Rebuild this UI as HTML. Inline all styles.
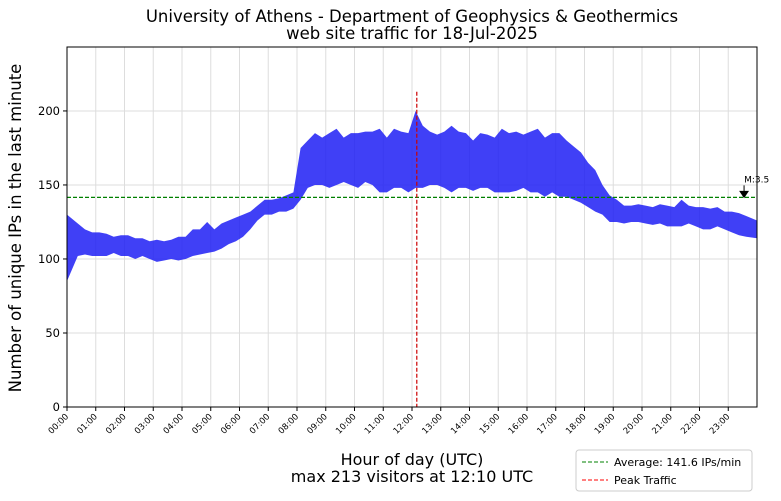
<!DOCTYPE html>
<html><head><meta charset="utf-8"><style>
body{margin:0;background:#fff;}
svg{display:block;font-family:"DejaVu Sans","Liberation Sans",sans-serif;}
</style></head><body>
<svg id="chart" width="781" height="501" viewBox="0 0 781 501">
<text x="412" y="22" text-anchor="middle" font-size="16.5">University of Athens - Department of Geophysics &amp; Geothermics</text>
<text x="412" y="39" text-anchor="middle" font-size="16.5">web site traffic for 18-Jul-2025</text>
<g id="grid"></g>
<g id="series"></g>
<g id="overlay"></g>
<rect x="67" y="47" width="690" height="360" fill="none" stroke="#000" stroke-width="1"/>
<g id="axes"></g>
<text x="412" y="465" text-anchor="middle" font-size="16">Hour of day (UTC)</text>
<text x="412" y="482" text-anchor="middle" font-size="16">max 213 visitors at 12:10 UTC</text>
<text transform="translate(21,228) rotate(-90)" text-anchor="middle" font-size="16.5">Number of unique IPs in the last minute</text>
<g>
<rect x="576" y="450" width="176" height="41" rx="3" fill="#fff" stroke="#ccc"/>
<line x1="582" y1="462" x2="608" y2="462" stroke="green" stroke-dasharray="4,2"/>
<text x="614" y="466" font-size="11">Average: 141.6 IPs/min</text>
<line x1="582" y1="480" x2="608" y2="480" stroke="red" stroke-dasharray="4,2"/>
<text x="614" y="484" font-size="11">Peak Traffic</text>
</g>
</svg>
<script>
const slotMinutes = 15;
const lows = [85,102,103,102, 102,102,104,102, 102,100,102,100, 98,99,100,99,
 100,102,103,104, 105,107,110,112, 115,120,126,130, 130,132,132,134,
 140,148,150,150, 148,150,152,150, 148,152,150,145, 145,148,148,145,
 148,148,150,150, 148,145,148,148, 146,148,148,145, 145,145,146,148,
 145,145,142,145, 142,142,140,138, 135,132,130,125, 125,124,125,125,
 124,123,124,122, 122,122,124,122, 120,120,122,120, 118,116,115,114];
const highs = [130,124,120,118, 118,117,115,116, 116,114,114,112, 113,112,113,115,
 115,120,120,125, 120,124,126,128, 130,132,136,140, 140,141,143,145,
 175,180,185,182, 185,188,182,185, 185,186,186,188, 182,188,186,185,
 200,190,186,184, 186,190,186,185, 180,185,184,182, 188,185,186,184,
 186,188,182,185, 185,180,176,172, 165,160,150,143, 140,136,136,137,
 136,135,137,136, 135,140,136,135, 135,134,135,132, 132,131,129,126];
const yTicks = [0,50,100,150,200];
const hourLabels = ["00:00","01:00","02:00","03:00","04:00","05:00","06:00","07:00","08:00","09:00","10:00","11:00","12:00","13:00","14:00","15:00","16:00","17:00","18:00","19:00","20:00","21:00","22:00","23:00"];
const average = 141.6;
const peakMinute = 730;
const peakValue = 213;
const lastValue = 3.5;

(function(){
const NS="http://www.w3.org/2000/svg";
const X0=67,X1=757,Y0=407,Y1=47,YMAX=243.2;
const xs=m=>X0+(X1-X0)*m/1440;
const ys=v=>Y0-(Y0-Y1)*v/YMAX;
function mk(tag,attrs,parent){const e=document.createElementNS(NS,tag);for(const k in attrs)e.setAttribute(k,attrs[k]);parent.appendChild(e);return e;}
const grid=document.getElementById('grid'),axes=document.getElementById('axes'),series=document.getElementById('series'),ov=document.getElementById('overlay');
yTicks.forEach(v=>{
  const g=mk('line',{x1:X0,x2:X1,y1:ys(v),y2:ys(v),stroke:'#ddd','stroke-width':1},grid);
  
  
  mk('line',{x1:X0-4,x2:X0,y1:ys(v),y2:ys(v),stroke:'#000'},axes);
  const t=mk('text',{x:X0-7,y:ys(v)+4,'text-anchor':'end','font-size':11.5},axes);
  t.textContent=v;
  
  
});
hourLabels.forEach((lab,i)=>{
  const x=xs(i*60);
  const g=mk('line',{x1:x,x2:x,y1:Y1,y2:Y0,stroke:'#ddd','stroke-width':1},grid);
  
  
  mk('line',{x1:x,x2:x,y1:Y0,y2:Y0+4,stroke:'#000'},axes);
  const t=mk('text',{x:x+2,y:Y0+10,'text-anchor':'end','font-size':8.5,transform:`rotate(-45 ${x+2} ${Y0+10})`},axes);
  t.textContent=lab;
  
  
});
let upper=[],lower=[];
const n=lows.length;
lows.forEach((l,i)=>{
  const m=i===0?0:(i===n-1?1440:i*slotMinutes+slotMinutes/2);
  upper.push(`${xs(m)},${ys(highs[i])}`);
  lower.unshift(`${xs(m)},${ys(l)}`);});
const band=mk('polygon',{points:upper.concat(lower).join(' '),fill:'#1f1ff5','fill-opacity':0.85},series);


const av=mk('line',{x1:X0,x2:X1,y1:ys(average),y2:ys(average),stroke:'#008000','stroke-width':1.2,'stroke-dasharray':'4,2'},ov);


const pk=mk('line',{x1:xs(peakMinute),x2:xs(peakMinute),y1:ys(peakValue),y2:Y0,stroke:'#c00','stroke-width':1.2,'stroke-dasharray':'4,2'},ov);


const ax=xs(1413);
const ar=mk('path',{d:`M${ax},${ys(average)-12} L${ax},${ys(average)-5} M${ax-4},${ys(average)-6} L${ax+4},${ys(average)-6} L${ax},${ys(average)} Z`,stroke:'#000',fill:'#000'},ov);


const at=mk('text',{x:ax,y:ys(average)-15,'font-size':9},ov);
at.textContent='M:'+lastValue;


})();
</script>
</body></html>
